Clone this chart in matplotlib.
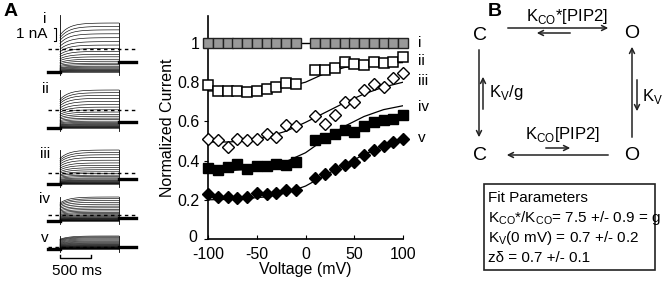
import numpy as np
import matplotlib
matplotlib.use("Agg")
import matplotlib.pyplot as plt
from matplotlib.transforms import ScaledTranslation

plt.rcParams['font.family'] = ['Liberation Sans', 'DejaVu Sans']

# data (normalized current vs voltage)
volts = [-100, -90, -80, -70, -60, -50, -40, -30, -20, -10,
         10, 20, 30, 40, 50, 60, 70, 80, 90, 100]
cur_i = [1.0] * 20
cur_ii = [0.785, 0.755, 0.755, 0.755, 0.75, 0.755, 0.765, 0.777, 0.797, 0.79,
          0.862, 0.862, 0.874, 0.905, 0.893, 0.888, 0.905, 0.90, 0.905, 0.93]
cur_iii = [0.51, 0.505, 0.47, 0.51, 0.505, 0.51, 0.535, 0.52, 0.58, 0.575,
           0.63, 0.585, 0.633, 0.70, 0.70, 0.76, 0.79, 0.777, 0.82, 0.845]
cur_iv = [0.36, 0.352, 0.367, 0.384, 0.355, 0.372, 0.37, 0.382, 0.378, 0.393,
          0.505, 0.515, 0.535, 0.555, 0.545, 0.575, 0.595, 0.605, 0.61, 0.635]
cur_v = [0.23, 0.213, 0.213, 0.21, 0.213, 0.236, 0.23, 0.236, 0.25, 0.25,
         0.31, 0.33, 0.355, 0.378, 0.395, 0.43, 0.454, 0.474, 0.497, 0.51]

# fitted curves
fit_v = [-100, -80, -60, -40, -20, 0, 20, 40, 60, 80, 100]
fit_ii = [0.755, 0.755, 0.757, 0.762, 0.775, 0.80, 0.845, 0.875, 0.89, 0.897, 0.90]
fit_iii = [0.495, 0.495, 0.50, 0.52, 0.55, 0.595, 0.645, 0.695, 0.74, 0.775, 0.80]
fit_iv = [0.345, 0.348, 0.355, 0.37, 0.395, 0.44, 0.51, 0.575, 0.625, 0.66, 0.68]
fit_v5 = [0.20, 0.202, 0.207, 0.215, 0.235, 0.27, 0.325, 0.38, 0.43, 0.475, 0.51]

series_names = ['i', 'ii', 'iii', 'iv', 'v']

# relative levels of the current traces in panel A
trace_levels = [0.0, 0.01, 0.02, 0.03, 0.045, 0.06, 0.08, 0.1, 0.12, 0.15,
                0.18, 0.22, 0.26, 0.31, 0.36, 0.42, 0.48, 0.55, 0.62, 0.70,
                0.78, 0.86, 0.93, 1.0]

W, H = 662, 283
fig = plt.figure(figsize=(W / 100, H / 100), dpi=100)

# overlay in pixel coords for the drawings and text
ov = fig.add_axes([0, 0, 1, 1])
ov.set_xlim(0, W)
ov.set_ylim(H, 0)
ov.axis('off')

# main plot
x0, x1, y0, y1 = 208, 403, 239, 16
ax = fig.add_axes([x0 / W, (H - y0) / H, (x1 - x0) / W, (y0 - y1) / H])
ax.set_xlim(-100, 100)
ax.set_ylim(0, (y0 - y1) / 196)
for s in ['top', 'right']:
    ax.spines[s].set_visible(False)
ax.spines['left'].set_linewidth(1.2)
ax.spines['bottom'].set_linewidth(1.2)
ax.set_xticks([-100, -50, 0, 50, 100])
ax.set_xticklabels(['-100', '-50', '0', '50', '100'])
ax.set_yticks([0, 0.2, 0.4, 0.6, 0.8, 1.0])
ax.set_yticklabels(['0', '0.2', '0.4', '0.6', '0.8', '1'])
ax.tick_params(axis='x', direction='in', length=3, labelsize=11.5, pad=6)
ax.tick_params(axis='y', direction='out', length=3, labelsize=11.5, pad=3)
ax.set_xlabel('Voltage (mV)', fontsize=11.5, labelpad=0)
ax.set_ylabel('Normalized Current', fontsize=11.5, labelpad=2)
zero_lab = ax.get_yticklabels()[0]
zero_lab.set_transform(zero_lab.get_transform() +
                       ScaledTranslation(-2 / 72, 2 / 72, fig.dpi_scale_trans))

ms = 7.5
ax.plot(volts, cur_i, color='black', lw=1.0, marker='s', ms=ms,
        mfc='#999999', mec='#222222', mew=1.0, clip_on=False, zorder=3)
for fy in [fit_ii, fit_iii, fit_iv, fit_v5]:
    ax.plot(fit_v, fy, color='black', lw=0.9, zorder=2)
ax.plot(volts, cur_ii, ls='none', marker='s', ms=ms, mfc='white',
        mec='black', mew=1.1, clip_on=False, zorder=3)
ax.plot(volts, cur_iii, ls='none', marker='D', ms=6.2, mfc='white',
        mec='black', mew=1.0, clip_on=False, zorder=3)
ax.plot(volts, cur_iv, ls='none', marker='s', ms=ms, mfc='black',
        mec='black', clip_on=False, zorder=3)
ax.plot(volts, cur_v, ls='none', marker='D', ms=6.2, mfc='black',
        mec='black', clip_on=False, zorder=3)

for name, yy in zip(series_names, [43, 61, 81, 107, 138]):
    ov.text(418, yy, name, fontsize=11, va='center', ha='left')

# panel A traces
panels = [  # label, top, bottom(baseline), tail, dashed, label y
    ('i', 23, 72, 62, 49, 19),
    ('ii', 90, 128, 122, 110, 89),
    ('iii', 150, 184, 179, 173, 154),
    ('iv', 197, 221, 218, 215, 199),
    ('v', 236, 249, 247, 247, 238),
]
t_on, t_off, t_start, t_end = 60, 119, 48, 136
tt = np.linspace(0, 1, 60)
for lab, top, base, tail, dash, ly in panels:
    for lv in trace_levels:
        lev = base - lv * (base - top)
        y = base - (base - lev) * (1 - 0.25 * np.exp(-tt / 0.15))
        ov.plot(t_on + tt * (t_off - t_on), y, color='black', lw=0.45)
    ov.plot([t_on, t_on], [top - 8 if lab == 'i' else top, base + 3],
            color='black', lw=0.6)
    ov.plot([t_off, t_off], [top, base + 3], color='black', lw=0.6)
    ov.plot([t_start, t_on], [base, base], color='black', lw=2.4)
    ov.plot([t_off, t_end], [tail, tail], color='black', lw=2.4)
    ov.plot([t_start, t_end], [dash, dash], color='black', lw=1.0,
            ls=(0, (2.5, 2.5)))
    ov.text(45, ly, lab, fontsize=11, ha='center', va='center')

ov.text(16, 34, '1 nA', fontsize=11, ha='left', va='center')
ov.plot([54, 56, 56, 54], [28, 28, 41, 41], color='black', lw=0.8)
ov.plot([60, 60, 91, 91], [255, 258, 258, 255], color='black', lw=1.0)
ov.text(77, 271, '500 ms', fontsize=11, ha='center', va='center')

ov.text(4, 12, 'A', fontsize=14, fontweight='bold', ha='left', va='center')
ov.text(488, 12, 'B', fontsize=14, fontweight='bold', ha='left', va='center')

# panel B scheme
for xx, yy, s in [(480, 36, 'C'), (632, 34, 'O'), (480, 156, 'C'),
                  (632, 156, 'O')]:
    ov.text(xx, yy, s, fontsize=14, ha='center', va='center')

akw = dict(arrowstyle='->', color='#222222', lw=1.1, mutation_scale=9)


def arrow(xa, ya, xb, yb):
    ov.annotate('', xy=(xb, yb), xytext=(xa, ya), arrowprops=akw)


arrow(505, 28, 611, 28)
arrow(573, 33, 534, 33)
arrow(479, 47, 479, 140)
arrow(483, 112, 483, 74)
arrow(632, 140, 632, 44)
arrow(637, 77, 637, 114)
arrow(611, 155, 504, 155)
arrow(543, 148, 573, 148)

ov.text(567, 16, r'K$_{\mathregular{CO}}$*[PIP2]', fontsize=12,
        ha='center', va='center')
ov.text(489, 93, r'K$_{\mathregular{V}}$/g', fontsize=12, ha='left',
        va='center')
ov.text(642, 97, r'K$_{\mathregular{V}}$', fontsize=12, ha='left',
        va='center')
ov.text(563, 135, r'K$_{\mathregular{CO}}$[PIP2]', fontsize=12,
        ha='center', va='center')

ov.add_patch(plt.Rectangle((484, 184), 171, 86, fill=False,
                           edgecolor='#222222', lw=1.2))
lines = ['Fit Parameters',
         r'K$_{\mathregular{CO}}$*/K$_{\mathregular{CO}}$= 7.5 +/- 0.9 = g',
         r'K$_{\mathregular{V}}$(0 mV) = 0.7 +/- 0.2',
         'z\u03b4 = 0.7 +/- 0.1']
for k, s in enumerate(lines):
    ov.text(488, 198 + k * 20, s, fontsize=11, ha='left', va='center')

fig.savefig('out.png', dpi=100)
